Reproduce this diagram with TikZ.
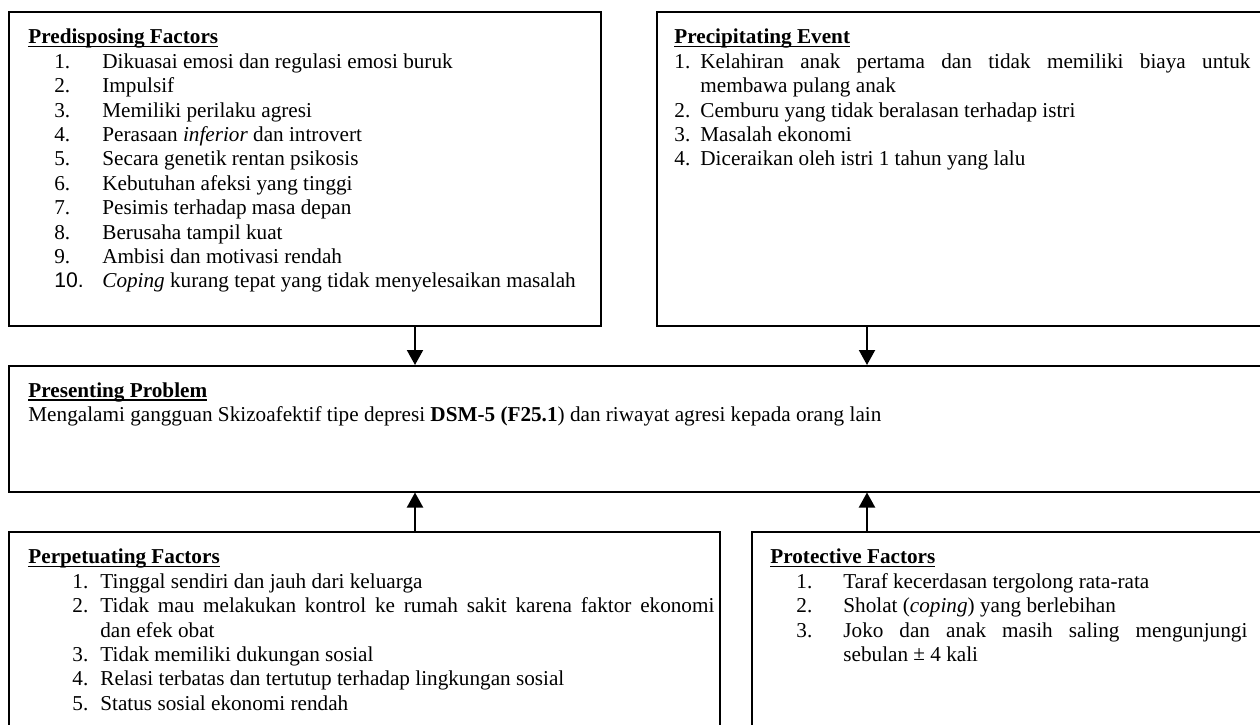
\documentclass[tikz,border=0pt]{standalone}
\usepackage{fontspec}
\setmainfont{Liberation Serif}
\newfontfamily\arialf{Liberation Sans}
\usetikzlibrary{arrows.meta}
\newcommand\fs{\fontsize{10.6pt}{12.2pt}\selectfont\hyphenpenalty=10000\exhyphenpenalty=10000\spaceskip=2.65pt plus 2pt minus 0.1pt}
\newlength\numx \newlength\txtx
\newcommand\li[2]{\par\leftskip=\txtx\noindent\llap{\makebox[\dimexpr\txtx-\numx\relax][l]{#1}}#2}
\newcommand\ulbf[1]{\setbox0=\hbox{\bfseries #1}\rlap{\rule[-1.6pt]{\wd0}{0.75pt}}\box0}
\newcommand\ttl[1]{\par\leftskip=0pt\noindent\ulbf{#1}}
\tikzset{
  box/.style={draw, line width=0.75pt, anchor=north west, inner sep=0pt},
  txt/.style={anchor=north west, inner sep=0pt, align=justify, font=\fs},
  arr/.style={line width=1pt, -{Triangle[width=8pt,length=7.5pt]}}
}
\begin{document}
\begin{tikzpicture}[x=0.5pt,y=-0.5pt]
\useasboundingbox (0,0) rectangle (1260,724);
\clip (0,0) rectangle (1260,724);
% boxes
\node[box, minimum width=296pt, minimum height=157pt] (pre) at (8,11) {};
\node[box, minimum width=309.5pt, minimum height=157pt] (prec) at (656,11) {};
\node[box, minimum width=633.5pt, minimum height=63pt] (pres) at (8,365) {};
\node[box, minimum width=355.5pt, minimum height=110pt] (perp) at (8,531) {};
\node[box, minimum width=262pt, minimum height=110pt] (prot) at (751,531) {};
% texts
\node[txt, text width=285pt] (preT) at (28,19) {\setlength\numx{13pt}\setlength\txtx{37pt}%
\ttl{Predisposing Factors}
\li{1.}{Dikuasai emosi dan regulasi emosi buruk}
\li{2.}{Impulsif}
\li{3.}{Memiliki perilaku agresi}
\li{4.}{Perasaan \textit{inferior} dan introvert}
\li{5.}{Secara genetik rentan psikosis}
\li{6.}{Kebutuhan afeksi yang tinggi}
\li{7.}{Pesimis terhadap masa depan}
\li{8.}{Berusaha tampil kuat}
\li{9.}{Ambisi dan motivasi rendah}
\li{{\arialf 10.}}{\textit{Coping} kurang tepat yang tidak menyelesaikan masalah}\par};
\node[txt, text width=288pt] (precT) at (674,19) {\setlength\numx{0pt}\setlength\txtx{13pt}%
\ttl{Precipitating Event}
\li{1.}{Kelahiran anak pertama dan tidak memiliki biaya untuk membawa pulang anak}
\li{2.}{Cemburu yang tidak beralasan terhadap istri}
\li{3.}{Masalah ekonomi}
\li{4.}{Diceraikan oleh istri 1 tahun yang lalu}\par};
\node[txt, text width=600pt] (presT) at (28,372.5) {%
\ttl{Presenting Problem}
\par\noindent Mengalami gangguan Skizoafektif tipe depresi \textbf{DSM-5 (F25.1}) dan riwayat agresi kepada orang lain\par};
\node[txt, text width=343pt] (perpT) at (28,539) {\setlength\numx{22pt}\setlength\txtx{36pt}%
\ttl{Perpetuating Factors}
\li{1.}{Tinggal sendiri dan jauh dari keluarga}
\li{2.}{Tidak mau melakukan kontrol ke rumah sakit karena faktor ekonomi dan efek obat}
\li{3.}{Tidak memiliki dukungan sosial}
\li{4.}{Relasi terbatas dan tertutup terhadap lingkungan sosial}
\li{5.}{Status sosial ekonomi rendah}\par};
\node[txt, text width=238.5pt] (protT) at (770,539) {\setlength\numx{13pt}\setlength\txtx{36.5pt}%
\ttl{Protective Factors}
\li{1.}{Taraf kecerdasan tergolong rata-rata}
\li{2.}{Sholat (\textit{coping}) yang berlebihan}
\li{3.}{Joko dan anak masih saling mengunjungi sebulan {\raise0.3pt\hbox{±}} 4 kali}\par};
% arrows
\coordinate (c1) at (415,0);
\coordinate (c2) at (867,0);
\draw[arr] (pre.south -| c1) -- (pres.north -| c1);
\draw[arr] (prec.south -| c2) -- (pres.north -| c2);
\draw[arr] (perp.north -| c1) -- (pres.south -| c1);
\draw[arr] (prot.north -| c2) -- (pres.south -| c2);
\end{tikzpicture}
\end{document}
